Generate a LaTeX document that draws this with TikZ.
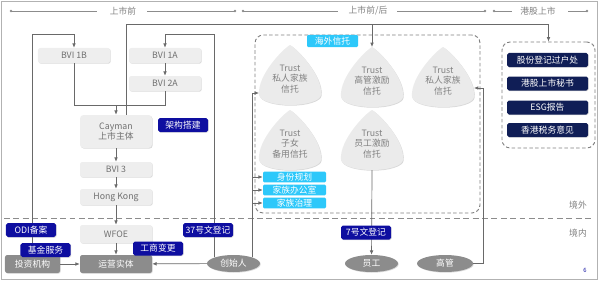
\documentclass[tikz,border=0pt]{standalone}
\usepackage{fontspec}
\setmainfont{Noto Sans CJK SC}
\usetikzlibrary{arrows.meta,positioning,calc,shapes.geometric,shadows}
\definecolor{boxgray}{RGB}{238,238,238}
\definecolor{inkgray}{RGB}{112,112,112}
\definecolor{solidgray}{RGB}{140,140,140}
\definecolor{tagblue}{RGB}{14,14,160}
\definecolor{hknavy}{RGB}{16,30,86}
\definecolor{trustcyan}{RGB}{45,200,250}
\definecolor{wiregray}{RGB}{105,105,105}

\begin{document}
\begin{tikzpicture}[x=0.03cm,y=-0.03cm,font=\fontsize{7.5}{9}\selectfont,
  lift/.style={drop shadow={shadow xshift=0.6pt,shadow yshift=-0.6pt,opacity=0.3}},
  link/.style={-{Latex[length=1.3mm,width=1.1mm]},draw=wiregray,line width=0.6pt},
  joint/.style={draw=wiregray,line width=0.6pt},
  entity/.style={fill=boxgray,text=inkgray,rounded corners=2pt,lift,
    minimum width=2.16cm,minimum height=0.45cm,inner sep=1pt},
  party/.style={entity,fill=solidgray,text=white},
  person/.style={ellipse,fill=solidgray,text=white,lift,
    minimum width=1.59cm,minimum height=0.51cm,inner sep=0pt},
  tag/.style={fill=tagblue,text=white,rounded corners=1.5pt,lift,
    minimum width=1.5cm,minimum height=0.42cm,inner sep=1pt},
  service/.style={fill=trustcyan,text=white,rounded corners=1pt,
    minimum width=1.89cm,minimum height=0.32cm,inner sep=0pt},
  listing/.style={fill=hknavy,text=white,rounded corners=1.5pt,lift,
    minimum width=2.43cm,minimum height=0.42cm,inner sep=0pt},
  cluster/.style={draw=black!50,dash pattern=on 3pt off 2pt,line width=0.8pt,rounded corners=7pt},
  trustshape/.style={fill=black!8,lift},
  phase/.style={draw=black!45,line width=0.6pt},
  note/.style={text=black!50}]
\useasboundingbox (0,0) rectangle (600,282);
\draw[black!30,line width=0.8pt] (1.5,1.5) rectangle (597.5,279.5);

% Timeline of the three phases.
\node[note] (pre) at (123,11) {上市前};
\node[note] (prepost) at (368,11) {上市前/后};
\node[note] (listed) at (538,11) {港股上市};
\foreach \a/\b in {11/97,147/235,243/338,397/485,494/512,568/587}
  \draw[phase] (\a,11) -- (\b,11);
\foreach \d in {11,235,243,485,494,587}
  \fill[black!45] (\d,11) circle (1.2pt);

% Offshore / onshore split.
\draw[black!45,dash pattern=on 5pt off 3pt,line width=0.7pt] (4,218) -- (592,218);
\node[note] (offshoretxt) at (578,205) {境外};
\node[note] (onshoretxt) at (578,233) {境内};

% Trust group and listing services group.
\node[cluster,minimum width=6.75cm,minimum height=5.34cm] (offshore) at (367.5,124) {};
\node[cluster,minimum width=2.79cm,minimum height=3.18cm] (hkgroup) at (548.5,95) {};

\foreach \nm/\px/\py/\txt in {tA/290/45/私人家族\\信托,tB/372/47/高管激励\\信托,
    tC/443/47/私人家族\\信托,tD/290/110/子女\\备用信托,tE/372/110/员工激励\\信托}{
  \begin{scope}[shift={(\px,\py)}]
    \path[trustshape] (0,0) .. controls (-6,3) and (-33,30) .. (-31,50)
      .. controls (-30,56) and (-16,60) .. (0,60)
      .. controls (16,60) and (30,56) .. (31,50)
      .. controls (33,30) and (6,3) .. (0,0) -- cycle;
    \node[note,align=center] (\nm) at (0,34) {Trust\\\txt};
    \coordinate (\nm-top) at (0,0);
    \coordinate (\nm-bot) at (0,60);
    \coordinate (\nm-w) at (-31,48);
    \coordinate (\nm-e) at (31,41);
  \end{scope}
}

\node[service,minimum width=1.53cm,minimum height=0.36cm] (overseas) at (332.5,41) {海外信托};
\node[service] (plan) at (294.5,177) {身份规划};
\node[service] (office) at (294.5,190) {家族办公室};
\node[service] (govern) at (294.5,203) {家族治理};

\node[listing] (registrar) at (547.5,60) {股份登记过户处};
\node[listing] (secretary) at (547.5,83.5) {港股上市秘书};
\node[listing] (esg) at (547.5,107.5) {ESG报告};
\node[listing] (taxopinion) at (547.5,130) {香港税务意见};

% Holding chain.
\node[entity] (bvi1b) at (74,55.5) {BVI 1B};
\node[entity] (bvi1a) at (165,55.5) {BVI 1A};
\node[entity] (bvi2a) at (165,83.5) {BVI 2A};
\node[entity,minimum height=0.99cm,rounded corners=3pt,align=center] (cayman) at (116,131.5) {Cayman\\上市主体};
\node[entity] (bvi3) at (116,169.5) {BVI 3};
\node[entity,minimum height=0.48cm] (hk) at (116,197) {Hong Kong};
\node[entity,minimum height=0.54cm] (wfoe) at (116,234) {WFOE};
\node[party,minimum height=0.54cm] (ops) at (116,264) {运营实体};
\node[party,minimum width=1.65cm,minimum height=0.54cm] (inv) at (32.5,264) {投资机构};
\node[person] (founder) at (233.5,263.5) {创始人};
\node[person] (staff) at (371.5,263.5) {员工};
\node[person,minimum width=1.68cm] (exec) at (445,263.5) {高管};

\draw[link] (inv.north) -- ++(0,-220) -| (bvi1b.north);
\draw[link] (founder.north west) -- ++(0,-222.5) -| (bvi1a.north);
\draw[link] (bvi1a) -- (bvi2a);
\coordinate (merge) at ($(cayman.north)+(0,-9)$);
\draw[joint] (bvi1b.south) |- (merge) -| (bvi2a.south);
\draw[link] (merge) -- (cayman.north);
\coordinate (bus) at ($(cayman.north)+(10,-90)$);
\draw[link] ($(cayman.north)+(10,0)$) -- (bus) -| (hkgroup.north);
\draw[link] (bus -| tB-top) -- (tB-top);
\foreach \from/\to in {cayman/bvi3,bvi3/hk,hk/wfoe,wfoe/ops,inv/ops,founder/ops}
  \draw[link] (\from) -- (\to);

\draw[link] (founder.north east) |- (tA-w);
\foreach \s in {plan,office,govern}
  \draw[link] (founder.north east |- \s.west) -- (\s.west);
\draw[link] (tE-bot) -- (staff);
\draw[link] (exec.east) -- ++(10,0) |- (tC-e);

% Filing and service labels sit over the lines.
\node[tag] (arch) at (183,125) {架构搭建};
\node[tag] (odi) at (31,230) {ODI备案};
\node[tag] (fund) at (45.5,250) {基金服务};
\node[tag] (saic) at (158,248.5) {工商变更};
\node[tag] (circ37) at (208,230) {37号文登记};
\node[tag] (circ7) at (366,232.5) {7号文登记};

\node[text=tagblue,font=\fontsize{5}{6}\selectfont] (pageno) at (585,270) {6};
\end{tikzpicture}
\end{document}
